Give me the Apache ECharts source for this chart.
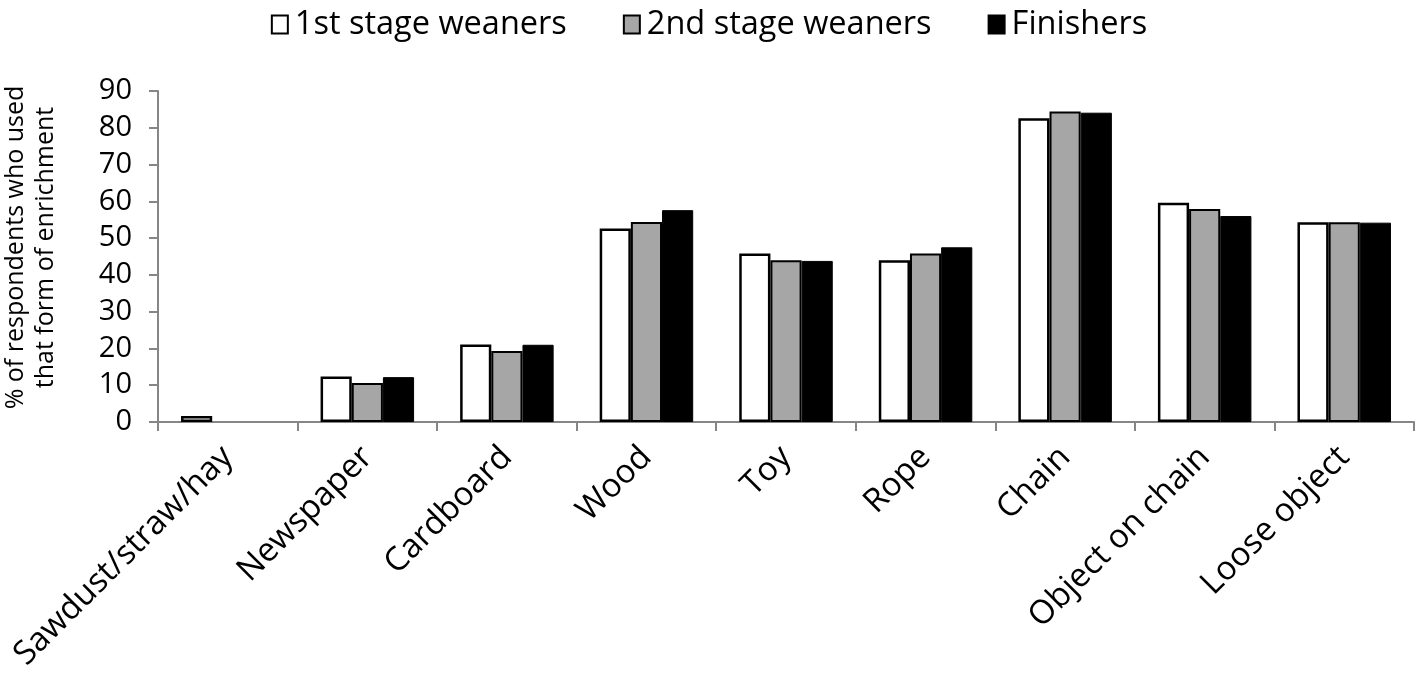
<!DOCTYPE html>
<html>
<head>
<meta charset="utf-8">
<script src="https://cdn.jsdelivr.net/npm/echarts@6/dist/echarts.min.js"></script>
<style>
html,body{margin:0;padding:0;background:#fff;}
#chart{width:1418px;height:675px;}
</style>
</head>
<body>
<div id="chart"></div>
<script>
const categories = ["Sawdust/straw/hay","Newspaper","Cardboard","Wood","Toy","Rope","Chain","Object on chain","Loose object"];
const firstStage  = [1.6, 12.4, 21.1, 52.6, 45.8, 44.0, 82.6, 59.6, 54.3];
const secondStage = [0,   10.6, 19.3, 54.4, 44.0, 45.8, 84.4, 57.9, 54.3];
const finishers   = [0,   12.2, 21.0, 57.6, 43.8, 47.5, 84.1, 56.0, 54.2];
const seriesNames = ["1st stage weaners","2nd stage weaners","Finishers"];
const yTicks = {min: 0, max: 90, interval: 10};
const yTitle = "% of respondents who used\nthat form of enrichment";

const FONT = "Open Sans";
const chart = echarts.init(document.getElementById('chart'));
const axisGray = '#868686';
// zero values draw no outline
const toData = arr => arr.map(v => v === 0 ? {value: v, itemStyle: {borderWidth: 0}} : v);

chart.setOption({
  animation: false,
  backgroundColor: '#fff',
  textStyle: {fontFamily: FONT, color: '#000'},
  legend: {
    top: 3,
    left: 'center',
    itemGap: 56,
    itemWidth: 16,
    itemHeight: 18,
    icon: 'rect',
    textStyle: {fontFamily: FONT, fontSize: 32.5, color: '#000', padding: [0, 0, 0, 2]},
    data: seriesNames
  },
  grid: {left: 158, right: 4, top: 91, bottom: 253, containLabel: false, outerBoundsMode: 'none'},
  xAxis: {
    type: 'category',
    data: categories,
    axisLine: {lineStyle: {color: axisGray, width: 2}},
    axisTick: {show: true, length: 9, lineStyle: {color: axisGray, width: 2}},
    axisLabel: {rotate: 45, fontSize: 33, color: '#000', fontFamily: FONT, margin: 30, interval: 0}
  },
  yAxis: {
    type: 'value',
    min: yTicks.min, max: yTicks.max, interval: yTicks.interval,
    name: yTitle,
    nameLocation: 'middle',
    nameGap: 97,
    nameTextStyle: {fontSize: 25, color: '#000', fontFamily: FONT, lineHeight: 30, padding: [0, 0, 0, 18]},
    axisLine: {show: true, lineStyle: {color: axisGray, width: 2}},
    axisTick: {show: true, length: 9, lineStyle: {color: axisGray, width: 2}},
    axisLabel: {fontSize: 29, color: '#000', fontFamily: FONT, margin: 26},
    splitLine: {show: false}
  },
  series: [
    {name: seriesNames[0], type: 'bar', data: toData(firstStage), barGap: '0%', barCategoryGap: '33%',
     itemStyle: {color: '#ffffff', borderColor: '#000', borderWidth: 2.5}},
    {name: seriesNames[1], type: 'bar', data: toData(secondStage), barGap: '0%', barCategoryGap: '33%',
     itemStyle: {color: '#a6a6a6', borderColor: '#000', borderWidth: 2}},
    {name: seriesNames[2], type: 'bar', data: toData(finishers), barGap: '0%', barCategoryGap: '33%',
     itemStyle: {color: '#000000', borderColor: '#000', borderWidth: 1}}
  ]
});
</script>
</body>
</html>
